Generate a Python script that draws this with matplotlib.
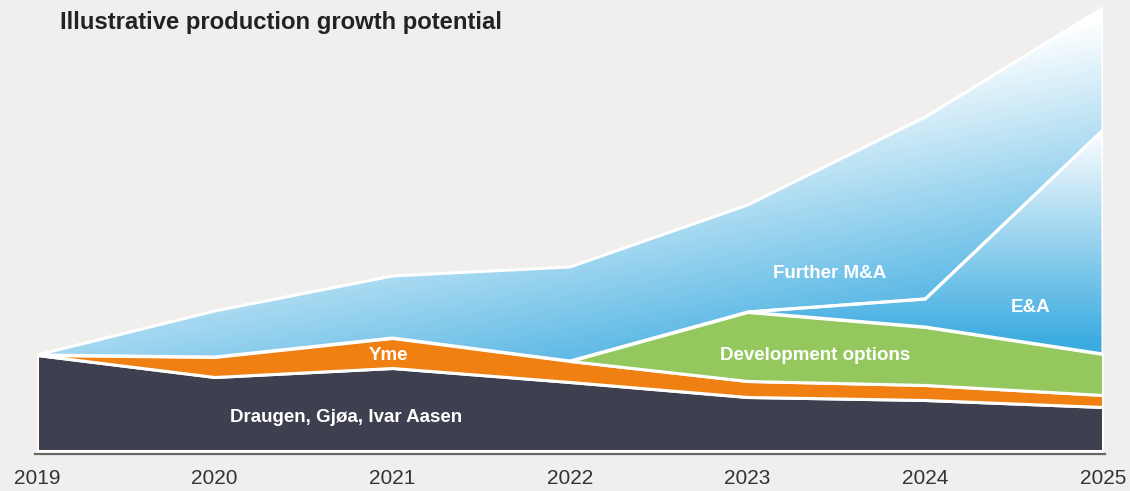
import numpy as np
import matplotlib
matplotlib.use("Agg")
import matplotlib.pyplot as plt
from matplotlib.colors import to_rgb

plt.rcParams['font.family'] = ['Liberation Sans', 'DejaVu Sans']

# данные (условные единицы)
years = [2019, 2020, 2021, 2022, 2023, 2024, 2025]
base = [96, 74, 83, 69, 54, 51, 44]        # Draugen, Gjøa, Ivar Aasen
yme = [0, 20, 30, 21, 16, 15, 12]          # Yme
dev = [0, 0, 0, 0, 69, 58, 41]             # Development options (с 2022)
ea = [0, 0, 0, 0, 0, 28, 224]              # E&A (с 2023)
ma = [0, 46, 62, 94, 107, 182, 122]        # Further M&A

BG = '#f0efed'
DARK = '#3e3f4f'
ORANGE = '#f08012'
GREEN = '#94c85f'
BLUE = '#3babe0'

W, H = 1130, 491
fig = plt.figure(figsize=(W / 100, H / 100), dpi=100, facecolor=BG)
ax = fig.add_axes([37 / W, (H - 454) / H, (1103 - 37) / W, 454 / H])
ax.set_facecolor(BG)

x = np.array(years, dtype=float)
c0 = np.array(base, dtype=float)
c1 = c0 + np.array(yme)
c2 = c1 + np.array(dev)
c3 = c2 + np.array(ea)
c4 = c3 + np.array(ma)

ymin, ymax = -3, 451
ax.set_xlim(2019, 2025)
ax.set_ylim(ymin, ymax)

LW = 2.2


def solid(xs, lo, hi, color):
    ax.fill_between(xs, lo, hi, facecolor=color, edgecolor='white',
                    linewidth=LW, zorder=2)


def gradient(xs, lo, hi, shade):
    # полигон слоя, градиент рисуется картинкой и обрезается по нему
    poly = ax.fill_between(xs, lo, hi, facecolor='none', edgecolor='white',
                           linewidth=LW, zorder=3)
    gx = np.linspace(2019, 2025, 400)
    gy = np.linspace(0, ymax, 300)
    X, Y = np.meshgrid(gx, gy)
    px = 37 + (X - 2019) * (1066 / 6)
    py = 451 - Y
    f = np.clip(shade(px, py), 0, 1)[..., None]
    img = (1 - f) * np.ones(3) + f * np.array(to_rgb(BLUE))
    im = ax.imshow(img, extent=(2019, 2025, 0, ymax), origin='lower',
                   aspect='auto', zorder=2, interpolation='bilinear')
    im.set_clip_path(poly.get_paths()[0], transform=ax.transData)


solid(x, 0, c0, DARK)
solid(x, c0, c1, ORANGE)
solid(x[3:], c1[3:], c2[3:], GREEN)
gradient(x[4:], c2[4:], c3[4:], lambda px, py: (py - 128) / 215)
gradient(x, c3, c4, lambda px, py: 0.000616 * px + 0.00337 * py - 0.745)

# подписи слоёв
lab = dict(color='white', fontsize=13.5, fontweight='bold', ha='center',
           va='center', zorder=5)
ax.text(2020.74, 34, 'Draugen, Gjøa, Ivar Aasen', **lab)
ax.text(2020.98, 96, 'Yme', **lab)
ax.text(2023.38, 96, 'Development options', **lab)
ax.text(2023.46, 178, 'Further M&A', **lab)
ax.text(2024.59, 143, 'E&A', **lab)

fig.text(60 / W, 1 - 22 / H, 'Illustrative production growth potential',
         fontsize=17.2, fontweight='bold', color='#222222', va='center')

for s in ['top', 'left', 'right']:
    ax.spines[s].set_visible(False)
ax.spines['bottom'].set_color('#666666')
ax.spines['bottom'].set_linewidth(1.6)
ax.spines['bottom'].set_bounds(2018.99, 2025.01)
ax.set_yticks([])
ax.set_xticks(years)
ax.set_xticklabels([str(y) for y in years], fontsize=15, color='#333333')
ax.tick_params(axis='x', length=0, pad=11)

fig.savefig('out.png', dpi=100, facecolor=BG)
